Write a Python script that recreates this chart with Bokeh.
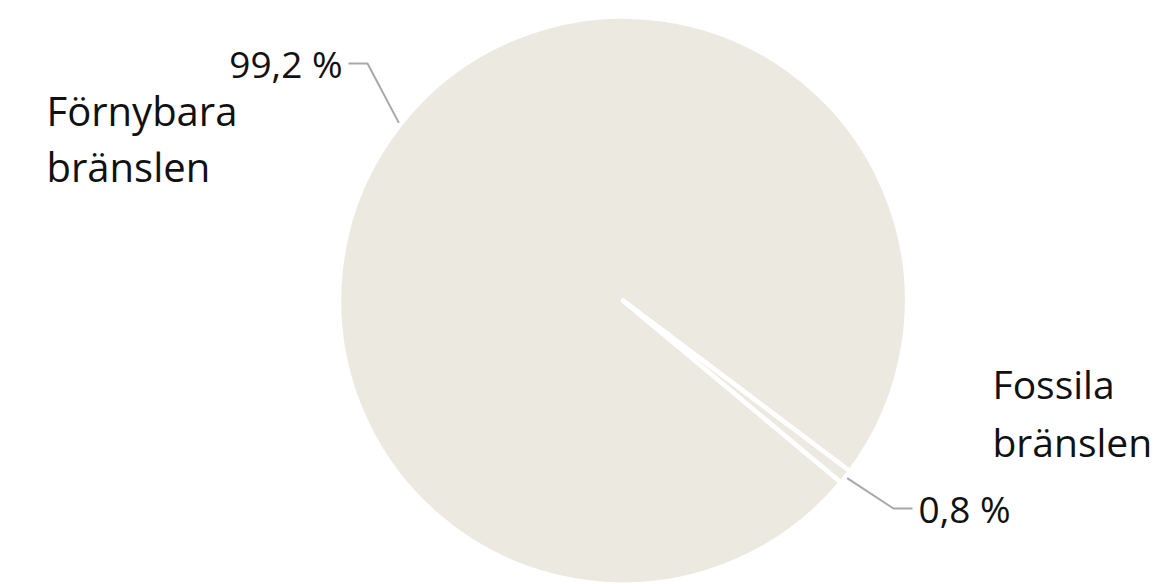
import math
from bokeh.plotting import figure
from bokeh.models import Range1d, ColumnDataSource
from bokeh.core.properties import value
from bokeh.embed import file_html
from bokeh.resources import INLINE

# ---- data ----
categories = ["Förnybara\nbränslen", "Fossila\nbränslen"]
shares = [99.2, 0.8]

# ---- layout constants (screen pixels, y downwards) ----
W, H = 1155, 584
CX, CY = 622.5, 300.0       # pie centre on screen
R = 284.0                   # pie radius (incl. white stroke)
START_DEG = -36.96          # where the first slice starts (anticlockwise)
FONT = "Open Sans"
FS_PCT = 37
FS_CAT = [40, 39]
BEIGE = "#ECEAE0"
GREY = "#A8A8A8"
INK = "#111111"

cat_anchor = [(46, 110, "left"), (992, 383, "left")]     # first-line baseline
cat_line_gap = [56, 58]
pct_anchor = [(342, 63, "right"), (918, 508, "left")]    # baseline of percent label


def dx(x):
    return x


def dy(y):
    return H - y  # flip screen y into data y (up)


p = figure(width=W, height=H, output_backend="svg", toolbar_location=None,
           x_range=Range1d(0, W), y_range=Range1d(0, H), min_border=0)
p.axis.visible = False
p.grid.visible = False
p.outline_line_color = None
p.background_fill_color = "white"
p.border_fill_color = "white"

# wedges
total = sum(shares)
starts, ends, mids = [], [], []
a = math.radians(START_DEG)
for v in shares:
    b = a + 2 * math.pi * v / total
    starts.append(a)
    ends.append(b)
    mids.append((a + b) / 2)
    a = b

src = ColumnDataSource(dict(x=[dx(CX)] * len(shares), y=[dy(CY)] * len(shares),
                            start=starts, end=ends))
p.wedge(x="x", y="y", radius=R, start_angle="start", end_angle="end",
        source=src, fill_color=BEIGE, line_color="white", line_width=4.5,
        line_join="round")

# leader lines + percent labels
for i, v in enumerate(shares):
    m = mids[i]
    sx = CX + (R + 2) * math.cos(m)
    sy = CY - (R + 2) * math.sin(m)
    ax, ay, align = pct_anchor[i]
    sgn = 1 if align == "left" else -1
    endx = ax - sgn * 6
    elbx = endx - sgn * 19
    p.line([dx(sx), dx(elbx), dx(endx)], [dy(sy), dy(ay), dy(ay)],
           line_color=GREY, line_width=2)
    txt = f"{v:.1f}".replace(".", ",") + " %"
    p.text(x=[dx(ax)], y=[dy(ay)], text=[txt], text_font=value(FONT),
           text_font_size=f"{FS_PCT}px", text_color=INK, text_align=align,
           text_baseline="alphabetic")

# category labels
for i, c in enumerate(categories):
    ax, ay, align = cat_anchor[i]
    for j, line in enumerate(c.split("\n")):
        p.text(x=[dx(ax)], y=[dy(ay + j * cat_line_gap[i])], text=[line],
               text_font=value(FONT), text_font_size=f"{FS_CAT[i]}px",
               text_color=INK, text_align=align, text_baseline="alphabetic")

open("out.html", "w").write(file_html(p, INLINE))
